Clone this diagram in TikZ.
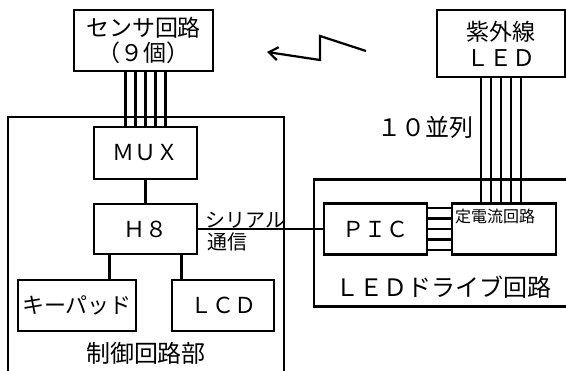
\documentclass[tikz,border=0pt]{standalone}
\usepackage{fontspec}
\setmainfont{Noto Sans CJK JP}
\usetikzlibrary{arrows.meta}

\begin{document}
\begin{tikzpicture}[x=1pt, y=-1pt,
  blk/.style={draw, line width=2.2pt, inner sep=0pt, align=center,
              font=\fontsize{22}{25}\selectfont},
  lbl/.style={inner sep=0pt, font=\fontsize{24}{26}\selectfont},
  sml/.style={inner sep=0pt, font=\fontsize{20}{22}\selectfont},
  wire/.style={line width=2.2pt}
]
\path[use as bounding box, clip] (0,0) rectangle (566,371);

\node[blk, minimum width=276pt, minimum height=280pt] (ctrl) at (146,257) {};
\node[blk, minimum width=266pt, minimum height=127pt] (drv) at (447,243) {};

\node[blk, minimum width=139pt, minimum height=61pt, font=\fontsize{23}{25}\selectfont]
  (sens) at (143.5,40.5) {センサ回路\\（９個）};
\node[blk, minimum width=128pt, minimum height=67pt, font=\fontsize{23}{26}\selectfont]
  (led) at (501,43.5) {紫外線\\ＬＥＤ};

\node[blk, minimum width=103pt, minimum height=52pt] (mux) at (145.5,153) {ＭＵＸ};
\node[blk, minimum width=103pt, minimum height=50pt] (h8) at (145.5,229) {Ｈ８};
\node[blk, minimum width=118pt, minimum height=51pt] (key) at (77,305.5) {キーパッド};
\node[blk, minimum width=102pt, minimum height=51pt] (lcd) at (223,305.5) {ＬＣＤ};
\node[blk, minimum width=103pt, minimum height=51pt] (pic) at (375.5,229) {ＰＩＣ};
\node[blk, minimum width=104pt, minimum height=51pt] (cc) at (504,229) {};
\node[anchor=north west, inner sep=0pt, font=\fontsize{16}{18}\selectfont]
  (cctxt) at ([xshift=4pt, yshift=-6pt]cc.north west) {定電流回路};

\node[lbl] (ctrltxt) at (146,353) {制御回路部};
\node[lbl] (drvtxt) at (443,287) {ＬＥＤドライブ回路};
\node[lbl] (para) at (425,127) {１０並列};
\node[sml, anchor=west] (sertxt) at (205,220) {シリアル};
\node[sml, anchor=west] (comtxt) at (207,242) {通信};

\foreach \d in {-20,-10,0,10,20}
  \draw[wire] ([xshift=\d pt]mux.north) -- ([xshift=\d pt]mux.north |- sens.south);
\foreach \d in {-20,-10,0,10,20}
  \draw[wire] ([xshift=\d pt]led.south) -- ([xshift=\d pt]led.south |- cc.north);
\foreach \d in {-21,-10.5,0,10.5,21}
  \draw[wire] ([yshift=\d pt]pic.east) -- ([yshift=\d pt]pic.east -| cc.west);

\draw[wire] (mux) -- (h8);
\draw[wire] (h8.east) -- (pic.west);
\draw[wire] ([xshift=-36pt]h8.south) -- ([xshift=-36pt]h8.south |- key.north);
\draw[wire] ([xshift=36pt]h8.south) -- ([xshift=36pt]h8.south |- lcd.north);

\draw[wire, -{Straight Barb[length=9pt, width=13pt]}]
  (366,51) -- (320,36) -- (320,60) -- (267,52);
\end{tikzpicture}
\end{document}
